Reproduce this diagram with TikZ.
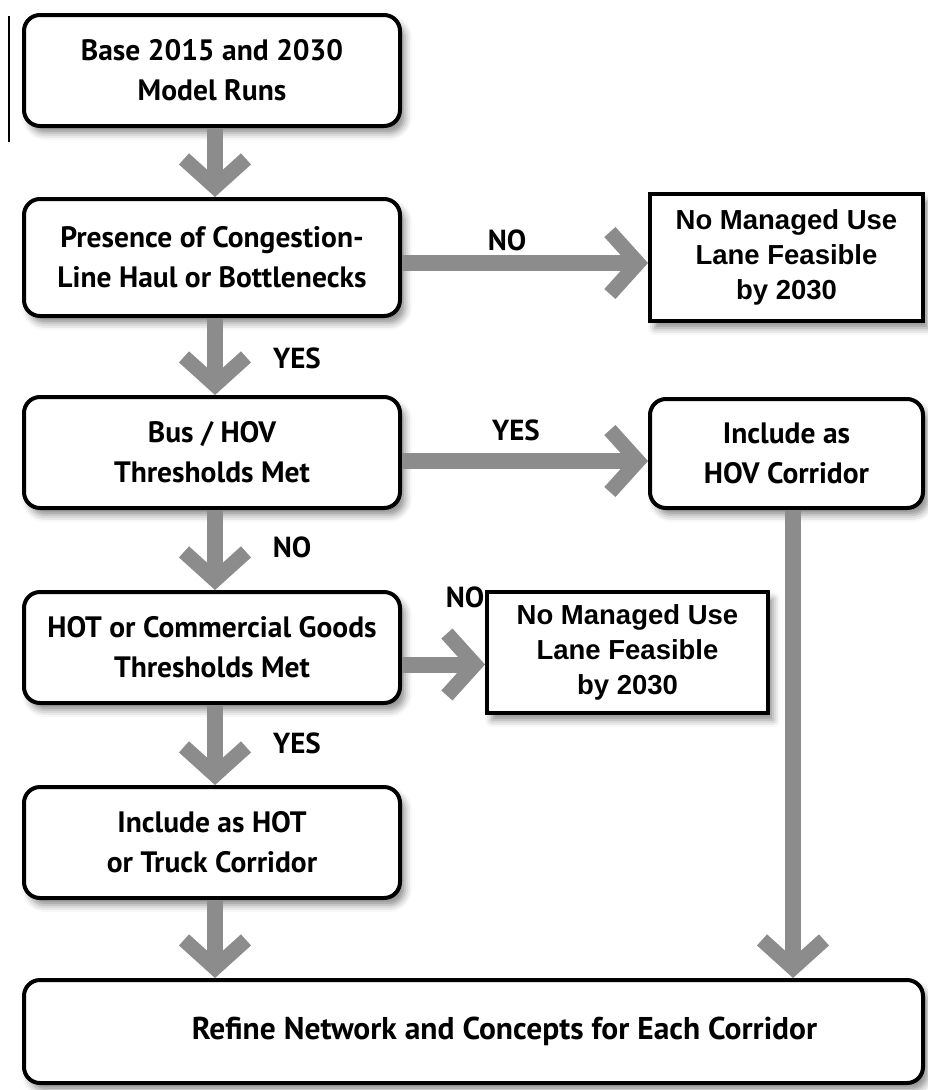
\documentclass[tikz,border=0pt]{standalone}
\usepackage{fontspec}
\setmainfont{PT Sans}
\newfontfamily\arialfont{Liberation Sans}
\usetikzlibrary{arrows.meta, shadows.blur}
\definecolor{flowgray}{HTML}{8C8C8C}
\tikzset{
  boxshadow/.style={blur shadow={shadow xshift=5pt, shadow yshift=-7pt, shadow blur radius=7pt, shadow opacity=45}},
  roundbox/.style={draw, line width=4pt, rounded corners=16pt, fill=white, align=center, inner sep=0pt,
    font=\fontsize{29.5}{40}\selectfont\bfseries, boxshadow},
  sqbox/.style={draw, line width=4pt, fill=white, align=center, inner sep=0pt,
    font=\arialfont\fontsize{27.5}{35}\selectfont\bfseries, boxshadow},
  flow/.style={draw=flowgray, line width=16pt, -{Straight Barb[length=28pt, width=62pt, line width'=15pt, sharp]}},
  answer/.style={font=\fontsize{29}{30}\selectfont\bfseries},
}

\begin{document}
\begin{tikzpicture}[x=1pt, y=-1pt]
\useasboundingbox (0,0) rectangle (927,1090);
\draw[line width=1.5pt] (9,16) -- (9,142);
% left column
\node[roundbox, minimum width=376, minimum height=111] (base) at (212,70.5) {Base 2015 and 2030\\Model Runs};
\node[roundbox, minimum width=376, minimum height=117] (cong) at (212,257.5) {Presence of Congestion-\\Line Haul or Bottlenecks};
\node[roundbox, minimum width=376, minimum height=111] (bus) at (212,452.5) {Bus / HOV\\Thresholds Met};
\node[roundbox, minimum width=376, minimum height=111] (hot) at (212,647.5) {HOT or Commercial Goods\\Thresholds Met};
\node[roundbox, minimum width=376, minimum height=111] (truck) at (212,842.5) {Include as HOT\\or Truck Corridor};
\node[roundbox, minimum width=899, minimum height=103, font=\fontsize{31.5}{40}\selectfont\bfseries] (refine) at (473.5,1031.5) {\hspace*{62pt}Refine Network and Concepts for Each Corridor};
% right column
\node[sqbox, minimum width=273, minimum height=127] (nolane) at (786.5,257.5) {No Managed Use\\Lane Feasible\\by 2030};
\node[roundbox, minimum width=273, minimum height=109] (hov) at (786.5,453.5) {Include as\\HOV Corridor};
\node[sqbox, minimum width=281, minimum height=121] (nolaneb) at (627.5,652.5) {No Managed Use\\Lane Feasible\\by 2030};
% answers
\node[answer] (yesa) at (297,358) {YES};
\node[answer] (noa) at (292,547) {NO};
\node[answer] (yesb) at (297,743) {YES};
\node[answer] (nob) at (507,240) {NO};
\node[answer] (yesc) at (516,430) {YES};
\node[answer] (noc) at (465,597) {NO};
% arrows
\draw[flow] ([xshift=3pt]base.south) -- ([xshift=3pt]cong.north);
\draw[flow] ([xshift=3pt]cong.south) -- ([xshift=3pt]bus.north);
\draw[flow] ([xshift=3pt]bus.south) -- ([xshift=3pt]hot.north);
\draw[flow] ([xshift=3pt]hot.south) -- ([xshift=3pt]truck.north);
\draw[flow] ([xshift=3pt]truck.south) -- ([xshift=3pt]truck.south |- refine.north);
\draw[flow] ([yshift=-5.5pt]cong.east) -- ([yshift=-5.5pt]cong.east -| nolane.west);
\draw[flow] ([yshift=-8.5pt]bus.east) -- ([yshift=-8.5pt]bus.east -| hov.west);
\draw[flow] ([yshift=-17pt]hot.east) -- ([yshift=-17pt]hot.east -| nolaneb.west);
\draw[flow] ([xshift=6.5pt]hov.south) -- ([xshift=6.5pt]hov.south |- refine.north);
\end{tikzpicture}
\end{document}
